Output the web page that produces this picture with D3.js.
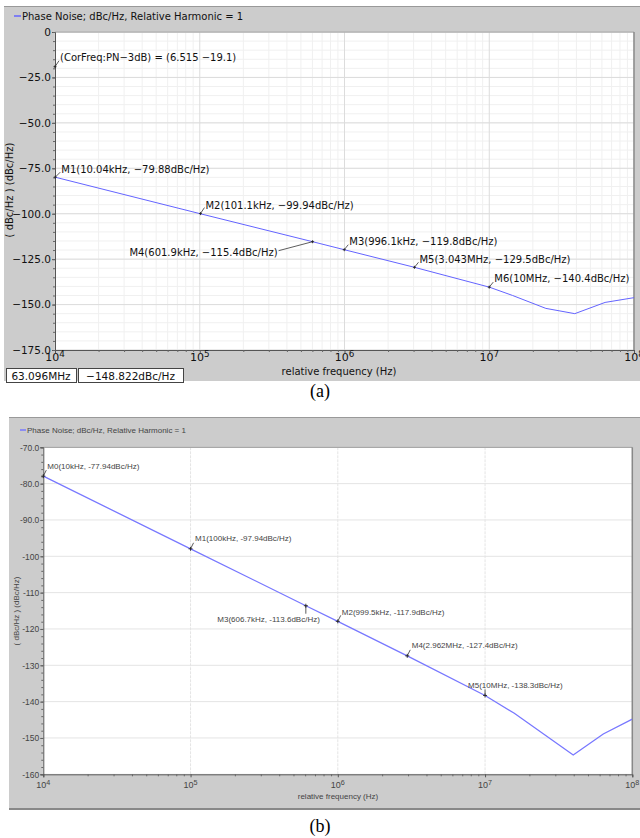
<!DOCTYPE html>
<html>
<head>
<meta charset="utf-8">
<script src="https://cdn.jsdelivr.net/npm/d3@7/dist/d3.min.js"></script>
<style>
  html, body { margin: 0; padding: 0; background: #fff; }
  svg { display: block; }
</style>
</head>
<body>
<svg id="chart" width="640" height="838"></svg>
<script>
// ---- Panel (a): phase noise trace ----
const freqA = [1e4, 1e5, 6.019e5, 9.961e5, 3.043e6, 1e7, 1.45e7, 2.46e7, 3.9e7, 6.3096e7, 1e8];
const pnA   = [-79.88, -99.94, -115.4, -119.8, -129.5, -140.4, -145.0, -152.1, -155.0, -148.822, -146.2];
const yTicksA = [0, -25, -50, -75, -100, -125, -150, -175];
const yTickLabelsA = ["0", "−25.0", "−50.0", "−75.0", "−100.0", "−125.0", "−150.0", "−175.0"];
const markerNamesA = ["(CorFreq:PN−3dB)", "M1", "M2", "M4", "M3", "M5", "M6"];
const markerFreqA  = [1e4, 1.004e4, 1.011e5, 6.019e5, 9.961e5, 3.043e6, 1e7];
const markerPnA    = [-19.1, -79.88, -99.94, -115.4, -119.8, -129.5, -140.4];
const markerTextA  = [
  "(CorFreq:PN−3dB) = (6.515 −19.1)",
  "M1(10.04kHz, −79.88dBc/Hz)",
  "M2(101.1kHz, −99.94dBc/Hz)",
  "M4(601.9kHz, −115.4dBc/Hz)",
  "M3(996.1kHz, −119.8dBc/Hz)",
  "M5(3.043MHz, −129.5dBc/Hz)",
  "M6(10MHz, −140.4dBc/Hz)"
];
const readoutA = ["63.096MHz", "−148.822dBc/Hz"];

// ---- Panel (b): phase noise trace ----
const freqB = [1e4, 1e5, 6.067e5, 9.995e5, 2.962e6, 1e7, 1.58e7, 3.97e7, 6.35e7, 1e8];
const pnB   = [-77.94, -97.94, -113.6, -117.9, -127.4, -138.3, -143.2, -154.7, -148.9, -144.8];
const yTicksB = [-70, -80, -90, -100, -110, -120, -130, -140, -150, -160];
const yTickLabelsB = ["-70.0", "-80.0", "-90.0", "-100", "-110", "-120", "-130", "-140", "-150", "-160"];
const markerNamesB = ["M0", "M1", "M3", "M2", "M4", "M5"];
const markerFreqB  = [1e4, 1e5, 6.067e5, 9.995e5, 2.962e6, 1e7];
const markerPnB    = [-77.94, -97.94, -113.6, -117.9, -127.4, -138.3];
const markerTextB  = [
  "M0(10kHz, -77.94dBc/Hz)",
  "M1(100kHz, -97.94dBc/Hz)",
  "M3(606.7kHz, -113.6dBc/Hz)",
  "M2(999.5kHz, -117.9dBc/Hz)",
  "M4(2.962MHz, -127.4dBc/Hz)",
  "M5(10MHz, -138.3dBc/Hz)"
];

const xDecades = [1e4, 1e5, 1e6, 1e7, 1e8];
const legendText = "Phase Noise; dBc/Hz, Relative Harmonic = 1";
const xTitle = "relative frequency (Hz)";
const yTitle = "( dBc/Hz ) (dBc/Hz)";

const svg = d3.select("#chart");

function minorLogTicks() {
  const out = [];
  for (let e = 4; e < 8; e++) for (let m = 2; m <= 9; m++) out.push(m * Math.pow(10, e));
  return out;
}

function drawPanel(cfg) {
  const g = svg.append("g");
  // gray frame
  g.append("rect").attr("x", cfg.panel[0]).attr("y", cfg.panel[1])
    .attr("width", cfg.panel[2] - cfg.panel[0]).attr("height", cfg.panel[3] - cfg.panel[1])
    .attr("fill", "#cccccc");
  g.append("line").attr("x1", cfg.panel[0]).attr("x2", cfg.panel[2])
    .attr("y1", cfg.panel[1] + 0.5).attr("y2", cfg.panel[1] + 0.5)
    .attr("stroke", "#999").attr("stroke-width", 1);
  if (cfg.bottomEdge) {
    g.append("line").attr("x1", cfg.panel[0]).attr("x2", cfg.panel[2])
      .attr("y1", cfg.panel[3] - 1).attr("y2", cfg.panel[3] - 1)
      .attr("stroke", "#888").attr("stroke-width", 2);
  }

  const [L, T, R, B] = cfg.plot;
  const x = d3.scaleLog().domain([1e4, 1e8]).range([L, R]);
  const y = d3.scaleLinear().domain(cfg.yDomain).range([T, B]);

  g.append("rect").attr("x", L).attr("y", T).attr("width", R - L).attr("height", B - T).attr("fill", "#fff");

  // grid
  const grid = g.append("g");
  if (cfg.minorGrid) {
    grid.selectAll(".vm").data(minorLogTicks()).join("line")
      .attr("x1", d => x(d)).attr("x2", d => x(d)).attr("y1", T).attr("y2", B)
      .attr("stroke", "#f0f0f0").attr("stroke-width", 1);
    grid.selectAll(".hm").data(d3.range(cfg.yDomain[0], cfg.yDomain[1] - 0.01, -cfg.minorGrid)).join("line")
      .attr("x1", L).attr("x2", R).attr("y1", d => y(d)).attr("y2", d => y(d))
      .attr("stroke", "#f0f0f0").attr("stroke-width", 1);
  }
  grid.selectAll(".vM").data(xDecades).join("line")
    .attr("x1", d => x(d)).attr("x2", d => x(d)).attr("y1", T).attr("y2", B)
    .attr("stroke", cfg.majorGridColor).attr("stroke-width", 1)
    .attr("stroke-dasharray", cfg.dashedV ? "3,1" : null);
  grid.selectAll(".hM").data(cfg.yTicks).join("line")
    .attr("x1", L).attr("x2", R).attr("y1", d => y(d)).attr("y2", d => y(d))
    .attr("stroke", cfg.majorGridColor).attr("stroke-width", 1);

  // frame edges
  g.append("line").attr("x1", L).attr("x2", R).attr("y1", T).attr("y2", T).attr("stroke", "#999");
  g.append("line").attr("x1", R).attr("x2", R).attr("y1", T).attr("y2", B).attr("stroke", "#888").attr("stroke-width", 1.5);

  // axes
  const fs = cfg.fontSize;
  const yAxis = d3.axisLeft(y).tickValues(cfg.yTicks)
    .tickFormat((d, i) => cfg.yLabels[i]).tickSize(3).tickPadding(1);
  const ya = g.append("g").attr("transform", `translate(${L},0)`).call(yAxis);
  ya.select(".domain").attr("stroke", "#555");
  ya.selectAll(".tick line").attr("stroke", "#555");
  ya.selectAll("text").attr("font-family", cfg.font).attr("font-size", fs).attr("fill", cfg.textColor);
  const yMinor = d3.axisLeft(y).tickValues(d3.range(cfg.yDomain[0], cfg.yDomain[1] - 0.01, -cfg.yMinorStep))
    .tickFormat("").tickSize(2);
  const ym = g.append("g").attr("transform", `translate(${L},0)`).call(yMinor);
  ym.select(".domain").remove();
  ym.selectAll(".tick line").attr("stroke", "#666");

  const xAxis = d3.axisBottom(x).tickValues(xDecades).tickFormat("").tickSize(3);
  const xa = g.append("g").attr("transform", `translate(0,${B})`).call(xAxis);
  xa.select(".domain").attr("stroke", "#555");
  xa.selectAll(".tick line").attr("stroke", "#555");
  const xMinor = d3.axisBottom(x).tickValues(minorLogTicks()).tickFormat("").tickSize(2);
  const xm = g.append("g").attr("transform", `translate(0,${B})`).call(xMinor);
  xm.select(".domain").remove();
  xm.selectAll(".tick line").attr("stroke", "#666");

  // decade labels with superscript exponents
  xDecades.forEach(d => {
    const t = g.append("text").attr("x", x(d)).attr("y", B + cfg.xLabelDy)
      .attr("text-anchor", "middle").attr("font-family", cfg.font)
      .attr("font-size", cfg.xTickFont).attr("fill", cfg.textColor);
    t.append("tspan").text("10");
    t.append("tspan").attr("dy", -cfg.xTickFont * 0.4).attr("font-size", cfg.xTickFont * 0.8)
      .text(String(Math.round(Math.log10(d))));
  });

  // axis titles
  g.append("text").attr("x", cfg.xTitlePos[0]).attr("y", cfg.xTitlePos[1])
    .attr("text-anchor", "middle").attr("font-family", cfg.font).attr("font-size", cfg.titleFont)
    .attr("fill", cfg.textColor).text(xTitle);
  g.append("text").attr("transform", `translate(${cfg.yTitlePos[0]},${cfg.yTitlePos[1]}) rotate(-90)`)
    .attr("text-anchor", "middle").attr("font-family", cfg.font).attr("font-size", cfg.titleFont)
    .attr("fill", cfg.textColor).text(yTitle);

  // legend
  g.append("line").attr("x1", cfg.legendPos[0]).attr("x2", cfg.legendPos[0] + cfg.legendDash)
    .attr("y1", cfg.legendPos[1]).attr("y2", cfg.legendPos[1])
    .attr("stroke", cfg.lineColor).attr("stroke-width", 1.5);
  g.append("text").attr("x", cfg.legendPos[0] + cfg.legendDash + 1).attr("y", cfg.legendPos[1])
    .attr("dominant-baseline", "central").attr("font-family", cfg.font)
    .attr("font-size", cfg.legendFont).attr("fill", cfg.textColor).text(legendText);

  // trace
  const clip = "clip" + cfg.id;
  g.append("clipPath").attr("id", clip).append("rect")
    .attr("x", L).attr("y", T).attr("width", R - L).attr("height", B - T);
  const pts = cfg.freq.map((f, i) => [f, cfg.pn[i]]);
  g.append("path").datum(pts).attr("clip-path", `url(#${clip})`)
    .attr("d", d3.line().x(d => x(d[0])).y(d => y(d[1])))
    .attr("fill", "none").attr("stroke", cfg.lineColor).attr("stroke-width", cfg.lineWidth);

  // markers and their labels
  cfg.mFreq.forEach((f, i) => {
    const ax = x(f), ay = y(cfg.mPn[i]);
    const off = cfg.labelOffsets[i];
    const tx = ax + off[0], ty = ay + off[1];
    g.append("line").attr("x1", ax).attr("y1", ay).attr("x2", ax + off[2]).attr("y2", ay + off[3])
      .attr("stroke", "#333").attr("stroke-width", 0.8);
    g.append("path").attr("d", `M${ax - cfg.cross},${ay}H${ax + cfg.cross}M${ax},${ay - cfg.cross}V${ay + cfg.cross}`)
      .attr("stroke", "#222").attr("stroke-width", 0.9);
    g.append("text").attr("x", tx).attr("y", ty)
      .attr("text-anchor", off[4] || "start").attr("dominant-baseline", "central")
      .attr("font-family", cfg.font).attr("font-size", cfg.markerFont)
      .attr("fill", cfg.textColor).text(cfg.mText[i]);
  });
  return g;
}

// panel (a)
const gA = drawPanel({
  id: "A", panel: [4, 6, 640, 381], plot: [55, 32, 634, 350], yDomain: [0, -175],
  yTicks: yTicksA, yLabels: yTickLabelsA, yMinorStep: 5, minorGrid: 5,
  majorGridColor: "#dcdcdc", dashedV: false,
  font: "DejaVu Sans", fontSize: 10.5, xTickFont: 11, xLabelDy: 11, titleFont: 10,
  xTitlePos: [339, 375], yTitlePos: [13, 190],
  legendPos: [14, 16], legendDash: 7, legendFont: 10,
  textColor: "#111", lineColor: "#6464ff", lineWidth: 1,
  freq: freqA, pn: pnA, mFreq: markerFreqA, mPn: markerPnA, mText: markerTextA,
  markerFont: 10, cross: 1.5,
  labelOffsets: [
    [5, -9, 4, -6], [6, -7.5, 5, -5], [5, -8.5, 4, -6], [-35, 10.5, -34, 9, "end"],
    [5, -8, 4, -5], [5, -8, 4, -5], [5, -8.5, 4, -5]
  ]
});
// readout boxes under panel (a)
[[6, 76], [78, 183]].forEach((bx, i) => {
  gA.append("rect").attr("x", bx[0] + 0.5).attr("y", 368.5).attr("width", bx[1] - bx[0]).attr("height", 14)
    .attr("fill", "#fff").attr("stroke", "#444");
  gA.append("text").attr("x", (bx[0] + bx[1]) / 2).attr("y", 376).attr("text-anchor", "middle")
    .attr("dominant-baseline", "central").attr("font-family", "DejaVu Sans").attr("font-size", 10.5)
    .attr("fill", "#111").text(readoutA[i]);
});

// panel (b)
drawPanel({
  id: "B", panel: [9, 417, 640, 810], plot: [43.3, 447.3, 632.3, 774.3], yDomain: [-70, -160],
  yTicks: yTicksB, yLabels: yTickLabelsB, yMinorStep: 2, minorGrid: 0, bottomEdge: true,
  majorGridColor: "#e4e4e4", dashedV: true,
  font: "Liberation Sans", fontSize: 8.5, xTickFont: 9, xLabelDy: 14, titleFont: 8,
  xTitlePos: [338, 799], yTitlePos: [19, 611],
  legendPos: [20, 430], legendDash: 6, legendFont: 8,
  textColor: "#444", lineColor: "#7878ff", lineWidth: 1.3,
  freq: freqB, pn: pnB, mFreq: markerFreqB, mPn: markerPnB, mText: markerTextB,
  markerFont: 8, cross: 2,
  labelOffsets: [
    [4, -9.5, 3, -6], [4.5, -10, 3, -6], [14, 14, 0, 8, "end"],
    [4, -9.3, 3, -6], [4.5, -10, 3, -6], [-17, -9.7, 0, -6]
  ]
});

// captions
svg.append("text").attr("x", 320).attr("y", 397).attr("text-anchor", "middle")
  .attr("font-family", "Liberation Serif").attr("font-size", 18).attr("fill", "#000").text("(a)");
svg.append("text").attr("x", 320).attr("y", 832).attr("text-anchor", "middle")
  .attr("font-family", "Liberation Serif").attr("font-size", 18).attr("fill", "#000").text("(b)");
</script>
</body>
</html>
